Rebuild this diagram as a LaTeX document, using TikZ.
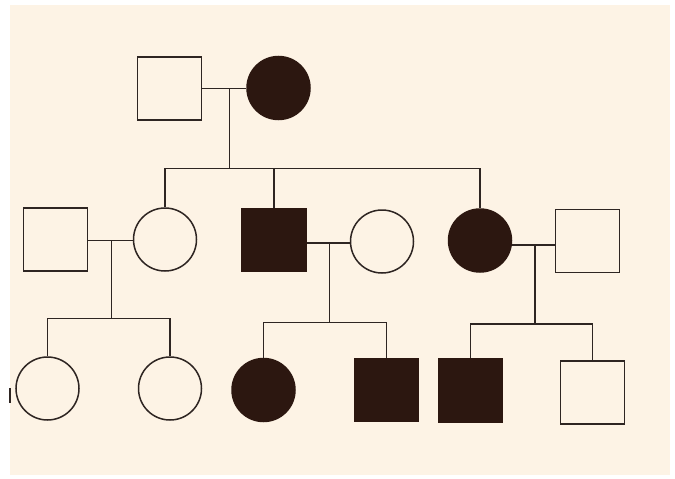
\documentclass[tikz,border=0pt]{standalone}
\usetikzlibrary{calc}
\definecolor{cream}{HTML}{FDF3E5}
\definecolor{ink}{HTML}{2E2522}
\definecolor{fillink}{HTML}{2C1710}
\tikzset{
  person/.style={draw=ink, line width=1.5pt, inner sep=0pt, fill=cream},
  male/.style={person, rectangle, minimum width=64pt, minimum height=63pt},
  female/.style={person, circle, minimum size=63pt},
  affected/.style={fill=fillink, draw=fillink},
  link/.style={draw=ink, line width=1.3pt},
}
\begin{document}
\begin{tikzpicture}[x=1pt,y=-1pt]
\useasboundingbox (0,0) rectangle (675,479);
\fill[white] (0,0) rectangle (675,479);
\fill[cream] (10,5) rectangle (670,475);
% generation I
\node[male] (g1m) at (169.5,88.5) {};
\node[female, affected] (g1f) at (278.5,88) {};
% generation II
\node[male] (g2h1) at (55.5,239.5) {};
\node[female] (g2a) at (165,239.5) {};
\node[male, affected] (g2b) at (274,240) {};
\node[female] (g2w) at (382,241.5) {};
\node[female, affected] (g2c) at (480,240.5) {};
\node[male] (g2h2) at (587.5,241) {};
% generation III
\node[female] (g3a) at (47.5,388.5) {};
\node[female] (g3b) at (170,388.5) {};
\node[female, affected] (g3c) at (263.5,390) {};
\node[male, affected] (g3d) at (386.7,390) {};
\node[male, affected] (g3e) at (470.5,390.5) {};
\node[male] (g3f) at (592.7,392.7) {};
% marriage points and sibship points
\coordinate (m1) at (229.5,88.5);
\coordinate (s1) at (229.5,168.5);
\coordinate (m2) at (111.7,240.5);
\coordinate (s2) at (111.7,318.5);
\coordinate (m3) at (329.5,243);
\coordinate (s3) at (329.5,322.3);
\coordinate (m4) at (535,245);
\coordinate (s4) at (535,324);
% generation I mating and offspring
\draw[link] (g1m.east |- m1) -- (g1f.west |- m1);
\draw[link] (m1) -- (s1);
\draw[link] (g2a.north) |- (s1) -| (g2c.north);
\draw[link] (g2b.north) -- (g2b.north |- s1);
% generation II matings
\draw[link] (g2h1.east |- m2) -- (g2a.west |- m2);
\draw[link] (m2) -- (s2);
\draw[link] (g3a.north) |- (s2) -| (g3b.north);
\draw[link] (g2b.east |- m3) -- (g2w.west |- m3);
\draw[link] (m3) -- (s3);
\draw[link] (g3c.north) |- (s3) -| (g3d.north);
\draw[link] (g2c.east |- m4) -- (g2h2.west |- m4);
\draw[link] (m4) -- (s4);
\draw[link] (g3e.north) |- (s4) -| (g3f.north);
% small scan mark at left edge
\draw[ink, line width=1.5pt] (10,388) -- (10,403);
\end{tikzpicture}
\end{document}
